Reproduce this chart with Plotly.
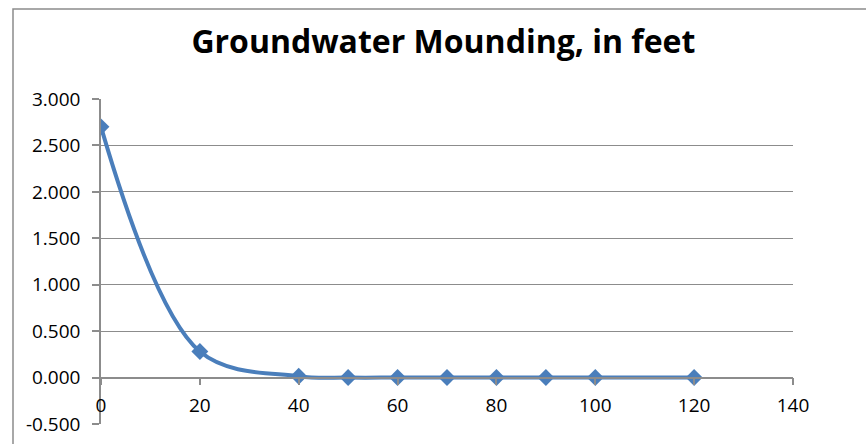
import plotly.graph_objects as go

distance_ft = [0, 20, 40, 50, 60, 70, 80, 90, 100, 120]
mounding_ft = [2.70, 0.28, 0.015, 0.0, 0.0, 0.0, 0.0, 0.0, 0.0, 0.0]

x_ticks = [0, 20, 40, 60, 80, 100, 120, 140]
y_ticks = [-0.5, 0.0, 0.5, 1.0, 1.5, 2.0, 2.5, 3.0]
y_tick_labels = ["-0.500", "0.000", "0.500", "1.000", "1.500", "2.000", "2.500", "3.000"]

y_min, y_max = -0.5, 3.0
grid_col = "#8c8c8c"
font_family = "Open Sans, Noto Sans, sans-serif"

fig = go.Figure()
fig.add_trace(go.Scatter(
    x=distance_ft, y=mounding_ft,
    mode="lines+markers",
    line=dict(color="#4a7ebb", width=4, shape="spline", smoothing=1.0),
    marker=dict(symbol="diamond", size=13, color="#4a7ebb"),
    showlegend=False, hoverinfo="skip",
))

fig.update_layout(
    width=866, height=444,
    margin=dict(l=101, r=73, t=99, b=20, autoexpand=False),
    paper_bgcolor="white", plot_bgcolor="white",
    title=dict(text="<b>Groundwater Mounding, in feet</b>",
               x=0.512, xanchor="center", y=0.905, yanchor="middle",
               font=dict(family=font_family, size=32, color="black")),
    font=dict(family=font_family, size=19, color="black"),
    xaxis=dict(
        range=[0, 140], tickvals=x_ticks, ticktext=[str(v) for v in x_ticks],
        showgrid=False, zeroline=False, automargin=False,
        showline=True, linecolor=grid_col, linewidth=1.5,
        ticks="outside", ticklen=7, tickcolor=grid_col, tickwidth=1.5,
        anchor="free", position=(0 - y_min) / (y_max - y_min),
        tickfont=dict(size=19), ticklabelstandoff=4,
    ),
    yaxis=dict(
        range=[y_min, y_max], tickvals=y_ticks, ticktext=y_tick_labels,
        showgrid=True, gridcolor=grid_col, gridwidth=1.2,
        zeroline=False, automargin=False,
        showline=True, linecolor=grid_col, linewidth=1.5,
        ticks="outside", ticklen=7, tickcolor=grid_col, tickwidth=1.5,
        tickfont=dict(size=19), ticklabelstandoff=8,
    ),
)

# outer chart border (left and top edges visible)
fig.add_shape(type="rect", xref="paper", yref="paper",
              x0=-88 / 692, x1=1.2, y0=-0.2, y1=1 + 90 / 325,
              line=dict(color="#8c8c8c", width=1.5), fillcolor="rgba(0,0,0,0)",
              layer="below")

fig.write_html("out.html", config={"displayModeBar": False},
               post_script="document.body.style.margin='0';document.body.style.overflow='hidden';")
